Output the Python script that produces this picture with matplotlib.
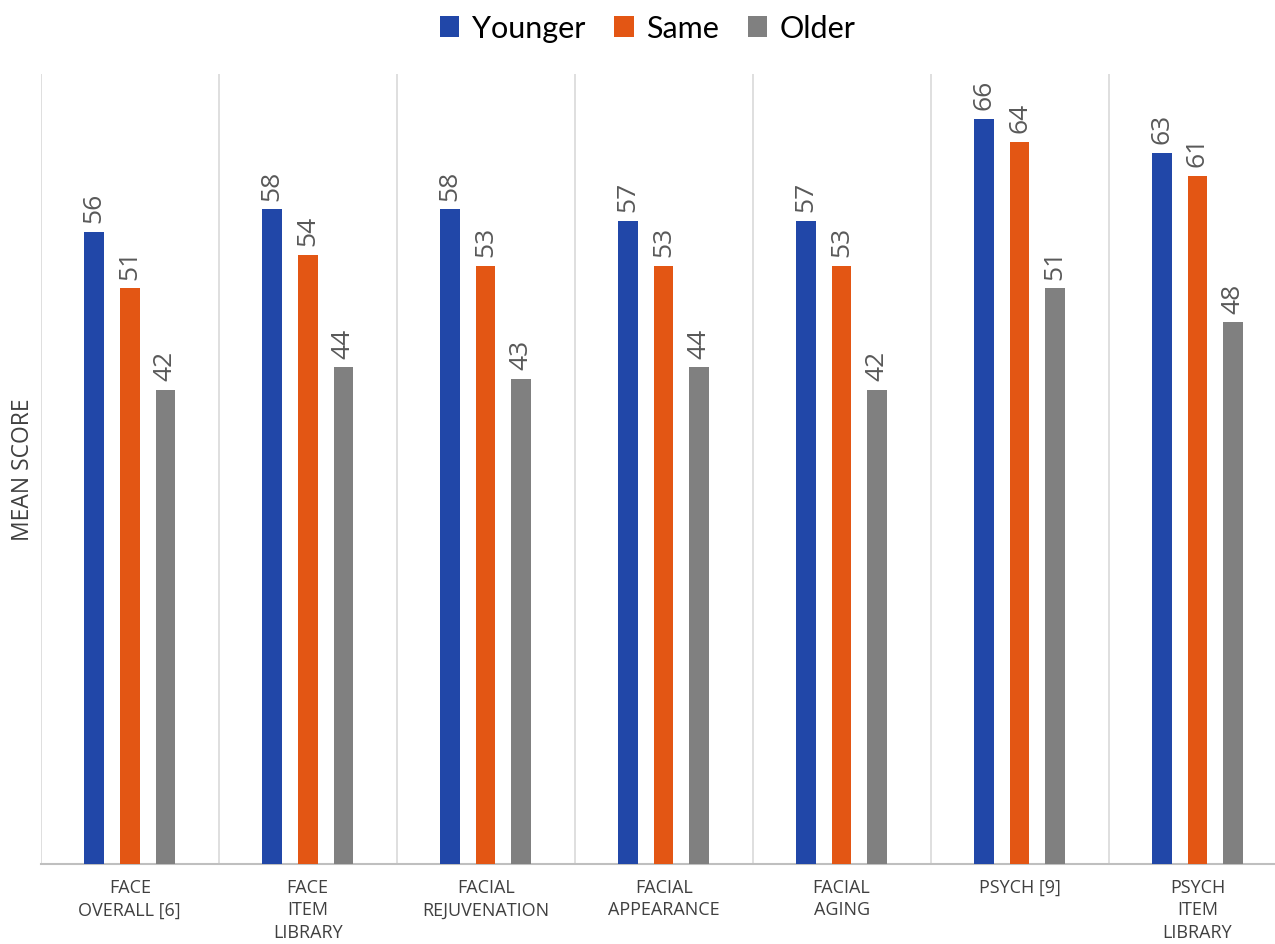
import matplotlib
matplotlib.use("Agg")
import matplotlib.pyplot as plt
import numpy as np
from matplotlib.patches import Patch

plt.rcParams["font.family"] = ["Open Sans", "DejaVu Sans"]

CATEGORIES = ["FACE\nOVERALL [6]", "FACE\nITEM\nLIBRARY", "FACIAL\nREJUVENATION",
              "FACIAL\nAPPEARANCE", "FACIAL\nAGING", "PSYCH [9]", "PSYCH\nITEM\nLIBRARY"]
YOUNGER = [56, 58, 58, 57, 57, 66, 63]
SAME    = [51, 54, 53, 53, 53, 64, 61]
OLDER   = [42, 44, 43, 44, 42, 51, 48]

SERIES = [("Younger", YOUNGER, "#2147A8"),
          ("Same",    SAME,    "#E35614"),
          ("Older",   OLDER,   "#808080")]

fig = plt.figure(figsize=(12.75, 9.45), dpi=100)
ax = fig.add_axes([0.032, 0.0847, 0.977, 0.836])

x = np.arange(len(CATEGORIES))
offsets = [-0.2, 0.0, 0.2]
width = 0.11

for (name, vals, color), off in zip(SERIES, offsets):
    bars = ax.bar(x + off, vals, width=width, color=color, label=name, zorder=3)
    for b, v in zip(bars, vals):
        ax.annotate(f"{v}", (b.get_x() + b.get_width() / 2, v),
                    xytext=(0, 7), textcoords="offset points",
                    rotation=90, ha="center", va="bottom",
                    fontsize=19, color="#595959")

ax.set_xlim(-0.5, len(CATEGORIES) - 0.5)
ax.set_ylim(0, 70)
ax.set_yticks([])

# category separators
for b in np.arange(-0.5, len(CATEGORIES), 1.0):
    ax.axvline(b, color="#d9d9d9", linewidth=1.2, zorder=1)

for side in ["top", "right", "left"]:
    ax.spines[side].set_visible(False)
ax.spines["bottom"].set_color("#bfbfbf")
ax.spines["bottom"].set_linewidth(1.5)

ax.set_xticks(x)
ax.set_xticklabels(CATEGORIES, fontsize=13, color="#404040", linespacing=1.33)
ax.tick_params(axis="x", length=0, pad=10)

fig.text(0.018, 0.503, "MEAN SCORE", rotation=90, ha="center", va="center",
         fontsize=16.5, color="#404040")

handles = [Patch(facecolor=c, label=n) for n, _, c in SERIES]
fig.legend(handles=handles, loc="center", bbox_to_anchor=(0.508, 0.969), ncol=3,
           frameon=False, handlelength=0.64, handleheight=0.64,
           handletextpad=0.4, columnspacing=0.95,
           prop={"family": ["Lato", "DejaVu Sans"], "size": 22})

fig.savefig("out.png", dpi=100, facecolor="white")
